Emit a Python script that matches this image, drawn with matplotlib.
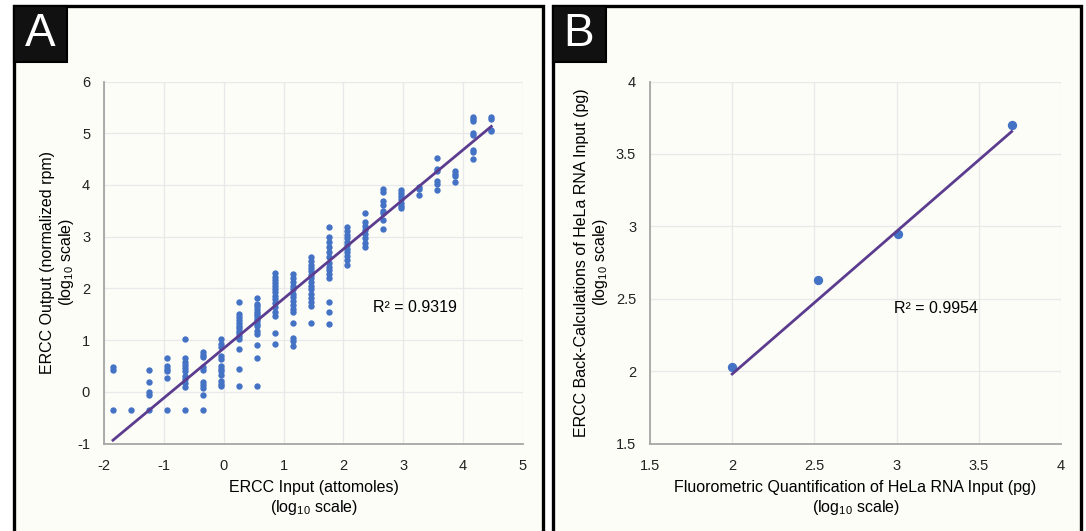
import numpy as np
import matplotlib
matplotlib.use("Agg")
import matplotlib.pyplot as plt
from matplotlib.patches import Rectangle

plt.rcParams['font.family'] = ['Liberation Sans', 'DejaVu Sans']
plt.rcParams['mathtext.default'] = 'regular'
plt.rcParams['axes.unicode_minus'] = False

# Panel A: ERCC input levels (log10 attomoles) and the outputs seen at each
ercc_input = [-1.85, -1.55, -1.25, -0.95, -0.65, -0.35, -0.05, 0.26, 0.56, 0.86, 1.16,
              1.46, 1.76, 2.06, 2.36, 2.66, 2.96, 3.27, 3.57, 3.87, 4.17, 4.47]
ercc_output = [
    [0.48, 0.43, -0.35],
    [-0.35],
    [0.43, 0.18, 0.0, -0.07, -0.35],
    [0.65, 0.5, 0.45, 0.41, 0.26, -0.35],
    [1.02, 0.65, 0.58, 0.52, 0.46, 0.41, 0.3, 0.24, 0.17, 0.1, -0.35],
    [0.77, 0.72, 0.68, 0.47, 0.42, 0.19, 0.14, 0.08, -0.06, -0.35],
    [1.03, 0.92, 0.87, 0.7, 0.64, 0.5, 0.45, 0.4, 0.33, 0.2, 0.15, 0.12],
    [1.73, 1.5, 1.44, 1.38, 1.33, 1.28, 1.23, 1.18, 1.14, 1.08, 1.03, 0.82, 0.44, 0.12],
    [1.81, 1.69, 1.65, 1.61, 1.55, 1.5, 1.46, 1.41, 1.36, 1.31, 1.27, 1.17, 1.12, 0.9, 0.66, 0.12],
    [2.29, 2.22, 2.16, 2.1, 2.04, 1.98, 1.92, 1.86, 1.8, 1.72, 1.64, 1.55, 1.46, 1.14, 0.92],
    [2.27, 2.2, 2.12, 2.05, 1.98, 1.9, 1.83, 1.76, 1.68, 1.6, 1.55, 1.33, 1.04, 0.98, 0.88],
    [2.6, 2.53, 2.46, 2.4, 2.33, 2.26, 2.2, 2.12, 2.05, 1.98, 1.9, 1.82, 1.74, 1.65, 1.33],
    [3.19, 3.0, 2.9, 2.8, 2.7, 2.6, 2.5, 2.42, 2.35, 2.28, 2.2, 1.74, 1.54, 1.31],
    [3.18, 3.1, 3.03, 2.97, 2.9, 2.83, 2.76, 2.7, 2.62, 2.55, 2.45],
    [3.46, 3.28, 3.2, 3.12, 3.05, 2.98, 2.87, 2.8],
    [3.93, 3.86, 3.68, 3.61, 3.5, 3.46, 3.33, 3.15],
    [3.9, 3.84, 3.78, 3.72, 3.66, 3.6, 3.55],
    [3.96, 3.92, 3.8],
    [4.52, 4.31, 4.27, 4.08, 4.02, 3.9],
    [4.27, 4.22, 4.17, 4.06],
    [5.31, 5.27, 5.23, 5.0, 4.97, 4.67, 4.63, 4.5],
    [5.32, 5.28, 5.07, 5.04],
]
fit_a = (0.96, 0.84)   # slope, intercept of trendline
r2_a = "R² = 0.9319"

# Panel B: HeLa RNA input
hela_fluoro = [2.0, 2.52, 3.01, 3.70]
hela_ercc = [2.03, 2.63, 2.95, 3.70]
fit_b = (0.985, 0.01)
r2_b = "R² = 0.9954"

dot_color = '#4472C4'
line_color = '#5B3C8F'
panel_bg = '#FDFDF8'
grid_color = '#E9E9E9'
W, H = 1086, 531

fig = plt.figure(figsize=(W / 100, H / 100), dpi=100)
fig.patch.set_facecolor('white')


def fx(px):
    return px / W


def fy(py):
    return 1 - py / H


# panel frames and letter boxes
for x0, x1, letter in [(14, 543, 'A'), (553, 1081, 'B')]:
    fig.patches.append(Rectangle((fx(x0), fy(545)), fx(x1) - fx(x0), fy(6) - fy(545),
                                 transform=fig.transFigure, facecolor=panel_bg,
                                 edgecolor='black', linewidth=2.4, zorder=-5))
    fig.patches.append(Rectangle((fx(x0), fy(62)), fx(53), fy(6) - fy(62),
                                 transform=fig.transFigure, facecolor='#111111',
                                 edgecolor='black', linewidth=1.5, zorder=5))
    fig.text(fx(x0 + 26), fy(34), letter, color='white', fontsize=33,
             ha='center', va='center', zorder=6)


def style_axes(ax):
    ax.set_facecolor('none')
    for s in ['top', 'right']:
        ax.spines[s].set_visible(False)
    for s in ['left', 'bottom']:
        ax.spines[s].set_color('#A6A6A6')
        ax.spines[s].set_linewidth(1.3)
    ax.grid(True, color=grid_color, linewidth=1.0)
    ax.set_axisbelow(True)
    ax.tick_params(length=0, labelsize=10.5, colors='#222222')
    ax.tick_params(axis='x', pad=11)
    ax.tick_params(axis='y', pad=10)


# ---- Panel A ----
axA = fig.add_axes([fx(104), fy(443.5), fx(523) - fx(104), fy(81.5) - fy(443.5)])
for xv, ys in zip(ercc_input, ercc_output):
    axA.scatter([xv] * len(ys), ys, s=21, color=dot_color, linewidths=0, zorder=3)
xs = np.array([min(ercc_input), max(ercc_input)])
axA.plot(xs, fit_a[0] * xs + fit_a[1], color=line_color, linewidth=2.0, zorder=4)
axA.set_xlim(-2, 5)
axA.set_ylim(-1, 6)
axA.set_xticks(range(-2, 6))
axA.set_yticks(range(-1, 7))
style_axes(axA)
axA.text(3.2, 1.63, r2_a, fontsize=11.5, ha='center', va='center')
axA.set_xlabel('ERCC Input (attomoles)\n(log$_{10}$ scale)', fontsize=11.5, labelpad=5,
               linespacing=1.2)
axA.set_ylabel('ERCC Output (normalized rpm)\n(log$_{10}$ scale)', fontsize=11.5, labelpad=1,
               linespacing=1.15)

# ---- Panel B ----
axB = fig.add_axes([fx(650), fy(443.5), fx(1061) - fx(650), fy(81.5) - fy(443.5)])
axB.scatter(hela_fluoro, hela_ercc, s=45, color=dot_color, linewidths=0, zorder=3)
xs = np.array([min(hela_fluoro), max(hela_fluoro)])
axB.plot(xs, fit_b[0] * xs + fit_b[1], color=line_color, linewidth=2.0, zorder=4)
axB.set_xlim(1.5, 4)
axB.set_ylim(1.5, 4)
axB.set_xticks([1.5, 2, 2.5, 3, 3.5, 4])
axB.set_yticks([1.5, 2, 2.5, 3, 3.5, 4])
axB.set_xticklabels(['1.5', '2', '2.5', '3', '3.5', '4'])
axB.set_yticklabels(['1.5', '2', '2.5', '3', '3.5', '4'])
style_axes(axB)
axB.text(3.24, 2.43, r2_b, fontsize=11.5, ha='center', va='center')
axB.set_xlabel('Fluorometric Quantification of HeLa RNA Input (pg)\n(log$_{10}$ scale)',
               fontsize=11.5, labelpad=5, linespacing=1.2)
axB.set_ylabel('ERCC Back-Calculations of HeLa RNA Input (pg)\n(log$_{10}$ scale)',
               fontsize=11.5, labelpad=4, linespacing=1.15)

fig.savefig('out.png', dpi=100)
